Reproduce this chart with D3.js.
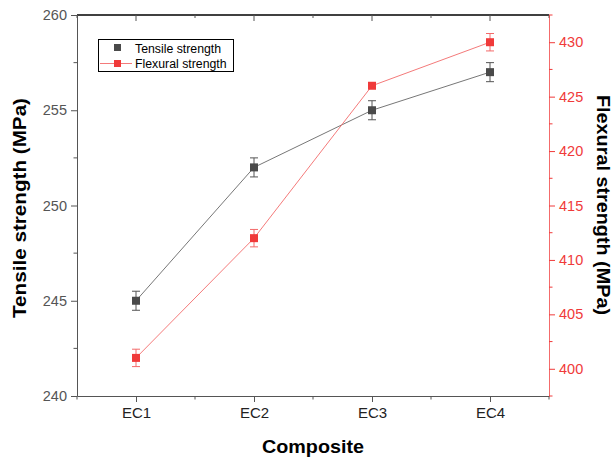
<!DOCTYPE html>
<html><head><meta charset="utf-8">
<script src="https://cdn.jsdelivr.net/npm/d3@7"></script>
<style>body{margin:0;background:#fff}svg{display:block;font-family:"Liberation Sans",Arial,sans-serif}</style>
</head><body><svg id="c" width="614" height="461"></svg>
<script>
const categories = ["EC1","EC2","EC3","EC4"];
const tensile = [245, 252, 255, 257];
const tensileErr = [0.5, 0.5, 0.5, 0.5];
const flexural = [401, 412, 426, 430];
const flexuralErr = [0.8, 0.8, 0, 0.8];
const leftTicks = [240, 245, 250, 255, 260];
const rightTicks = [400, 405, 410, 415, 420, 425, 430];

const svg = d3.select("#c");
const L = 77, R = 549, T = 15, B = 396;
const x = d3.scaleLinear().domain([0.5, 4.5]).range([L, R]);
const yL = d3.scaleLinear().domain([240, 260]).range([B, T]);
const yR = d3.scaleLinear().domain([397.5, 432.5]).range([B, T]);
const grey = "#555", red = "#f03a3a";
const FF = "Liberation Sans, Arial, sans-serif";

// top frame
svg.append("line").attr("x1", L).attr("x2", R).attr("y1", T).attr("y2", T).attr("stroke", "#000").attr("stroke-width", 1.6);
const topMinor = [0.5,1.5,2.5,3.5,4.5];
svg.append("g").selectAll("line").data([1,2,3,4]).join("line")
  .attr("x1", d => x(d)).attr("x2", d => x(d)).attr("y1", T).attr("y2", T + 6).attr("stroke", grey).attr("stroke-width", 1);
svg.append("g").selectAll("line").data(topMinor).join("line")
  .attr("x1", d => x(d)).attr("x2", d => x(d)).attr("y1", T).attr("y2", T + 3).attr("stroke", grey).attr("stroke-width", 1);

// bottom axis
const gx = svg.append("g").attr("transform", `translate(0,${B})`)
  .call(d3.axisBottom(x).tickValues([1,2,3,4]).tickFormat((d,i) => categories[i]).tickSize(6).tickSizeOuter(0));
gx.select(".domain").attr("stroke", grey);
gx.selectAll(".tick line").attr("stroke", grey);
gx.selectAll(".tick text").attr("fill", "#222").attr("font-size", 15).attr("y", 10).attr("dy", "0.8em").attr("font-family", FF);
gx.selectAll(".mn").data(topMinor).join("line").attr("class","mn")
  .attr("x1", d => x(d)).attr("x2", d => x(d)).attr("y1", 0).attr("y2", 3.5).attr("stroke", grey);

// left axis
const gl = svg.append("g").attr("transform", `translate(${L},0)`)
  .call(d3.axisLeft(yL).tickValues(leftTicks).tickSize(6).tickSizeOuter(0));
gl.select(".domain").attr("stroke", grey);
gl.selectAll(".tick line").attr("stroke", grey);
gl.selectAll(".tick text").attr("fill", grey).attr("font-size", 14.5).attr("x", -10).attr("font-family", FF);
gl.selectAll(".mn").data([242.5,247.5,252.5,257.5]).join("line").attr("class","mn")
  .attr("x1", -3.5).attr("x2", 0).attr("y1", d => yL(d)).attr("y2", d => yL(d)).attr("stroke", grey);

// right axis
const gr = svg.append("g").attr("transform", `translate(${R},0)`)
  .call(d3.axisRight(yR).tickValues(rightTicks).tickSize(6).tickSizeOuter(0));
gr.select(".domain").attr("stroke", red).attr("stroke-opacity", 0.75);
gr.selectAll(".tick line").attr("stroke", red);
gr.selectAll(".tick text").attr("fill", red).attr("font-size", 14.5).attr("x", 10).attr("font-family", FF);
gr.selectAll(".mn").data([397.5,402.5,407.5,412.5,417.5,422.5,427.5,432.5]).join("line").attr("class","mn")
  .attr("x1", 0).attr("x2", 3.5).attr("y1", d => yR(d)).attr("y2", d => yR(d)).attr("stroke", red);

// titles
svg.append("text").attr("x", 313).attr("y", 453).attr("text-anchor","middle")
  .attr("font-size", 19).attr("font-weight","bold").attr("fill","#000")
  .attr("textLength", 102).attr("lengthAdjust", "spacingAndGlyphs").text("Composite");
svg.append("text").attr("transform", `translate(26,208) rotate(-90)`).attr("text-anchor","middle")
  .attr("font-size", 19).attr("font-weight","bold").attr("fill","#000")
  .attr("textLength", 220).attr("lengthAdjust", "spacingAndGlyphs").text("Tensile strength (MPa)");
svg.append("text").attr("transform", `translate(597,205) rotate(90)`).attr("text-anchor","middle")
  .attr("font-size", 19).attr("font-weight","bold").attr("fill","#000")
  .attr("textLength", 220).attr("lengthAdjust", "spacingAndGlyphs").text("Flexural strength (MPa)");

// lines
const lineT = d3.line().x((d,i) => x(i+1)).y(d => yL(d));
const lineF = d3.line().x((d,i) => x(i+1)).y(d => yR(d));
svg.append("path").attr("d", lineT(tensile)).attr("fill","none").attr("stroke","#777").attr("stroke-width",1);
svg.append("path").attr("d", lineF(flexural)).attr("fill","none").attr("stroke","#f47a7a").attr("stroke-width",1);

function errs(data, err, y, col) {
  const g = svg.append("g").attr("stroke", col).attr("stroke-width", 1);
  data.forEach((d,i) => {
    if (!err[i]) return;
    const cx = x(i+1), y1 = y(d+err[i]), y2 = y(d-err[i]);
    g.append("line").attr("x1",cx).attr("x2",cx).attr("y1",y1).attr("y2",y2);
    g.append("line").attr("x1",cx-4).attr("x2",cx+4).attr("y1",y1).attr("y2",y1);
    g.append("line").attr("x1",cx-4).attr("x2",cx+4).attr("y1",y2).attr("y2",y2);
  });
}
errs(tensile, tensileErr, yL, "#555");
errs(flexural, flexuralErr, yR, "#f36a6a");

const s = 8;
svg.append("g").selectAll("rect").data(tensile).join("rect")
  .attr("x",(d,i)=>x(i+1)-s/2).attr("y",d=>yL(d)-s/2).attr("width",s).attr("height",s).attr("fill","#4a4a4a");
svg.append("g").selectAll("rect").data(flexural).join("rect")
  .attr("x",(d,i)=>x(i+1)-s/2).attr("y",d=>yR(d)-s/2).attr("width",s).attr("height",s).attr("fill",red);

// legend
const lg = svg.append("g");
lg.append("rect").attr("x",98.5).attr("y",39.5).attr("width",135).attr("height",32).attr("fill","#fff").attr("stroke","#000").attr("stroke-width",1);
lg.append("rect").attr("x",114).attr("y",44).attr("width",7).attr("height",7).attr("fill","#4a4a4a");
lg.append("line").attr("x1",100).attr("x2",132).attr("y1",63.5).attr("y2",63.5).attr("stroke","#f47a7a");
lg.append("rect").attr("x",114).attr("y",60).attr("width",7).attr("height",7).attr("fill",red);
lg.append("text").attr("x",135).attr("y",52.5).attr("font-size",12.3).attr("fill","#000").text("Tensile strength");
lg.append("text").attr("x",135).attr("y",68).attr("font-size",12.3).attr("fill","#000").text("Flexural strength");
</script></body></html>
